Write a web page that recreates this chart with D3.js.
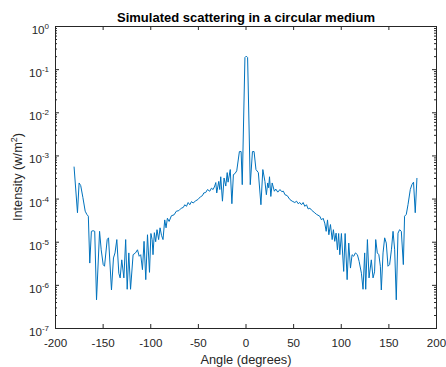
<!DOCTYPE html>
<html>
<head>
<meta charset="utf-8">
<script src="https://cdn.jsdelivr.net/npm/d3@7"></script>
<style>
  body { margin: 0; background: #fff; }
  text { font-family: "Liberation Sans", Arial, Helvetica, sans-serif; fill: #262626; }
</style>
</head>
<body>
<svg id="chart" width="446" height="367"></svg>
<script>

// scattering profile (angle in degrees, intensity in w/m^2)
var angleDeg = [
  -180, -176.4, -174.7, -173, -170.7, -168.3, -166.6, -165, -163.5, -161.8,
  -160, -158.3, -156.4, -153.2, -151.5, -149.4, -148, -145.2, -143.8, -140.7,
  -138.6, -137, -135.1, -133, -131.6, -129.9, -127.7, -125.8, -124.2, -122.5,
  -120.7, -118, -115.5, -113.4, -111.6, -110, -108.2, -106.5, -104.7, -102.9,
  -100.8, -99.3, -98, -97.1, -95.7, -94.3, -92.9, -91.2, -89.7, -88.2,
  -86.6, -84.8, -83.4, -82, -80.2, -77.8, -75, -72.6, -70, -67.4,
  -65.4, -63.7, -62, -60.2, -58.5, -56.7, -55, -52.2, -50, -47.3,
  -45.2, -43.8, -41.8, -39.9, -37.5, -35.8, -34, -32.3, -31.2, -30.2,
  -28.1, -27, -26, -24.2, -22.5, -20.7, -19.2, -18.3, -16, -14.3,
  -12.7, -11, -9.2, -6.4, -4.6, -3.4, -0.6, 0.8, 2.2, 5,
  7.3, 9, 11, 13.5, 16.2, 18.2, 20.4, 21.9, 23.3, 24.3,
  25.2, 26.6, 28, 30.3, 31.8, 33.9, 36.2, 38, 39.8, 41.4,
  43.8, 46.6, 49, 51.8, 53.6, 55.3, 57, 58.8, 60.5, 62.3,
  64, 65.8, 67.6, 69.3, 72.1, 74.6, 78, 79.8, 81.5, 83.2,
  84.7, 86.1, 87.5, 89.2, 91, 92.3, 93.7, 95.1, 96.5, 97.8,
  99, 100.7, 103.1, 104.6, 106.7, 108.4, 110.2, 111.9, 113.6, 115.4,
  117.5, 119.3, 121.7, 123.4, 125.1, 126.2, 128, 129.7, 132.1, 133.9,
  135.5, 136.7, 138.4, 140, 141.6, 142.6, 144.4, 146.1, 147.8, 149.6,
  151.3, 153.2, 154.9, 156.6, 158.3, 160.1, 161.8, 163.6, 165.7, 167,
  168.8, 170.6, 173, 174.7, 176.4, 178.2, 180
];

var intensity = [
  5.5e-4, 4.7e-5, 2.3e-4, 2.0e-4, 1.05e-4, 5.1e-5, 4.3e-5, 3.9e-5, 3.2e-6, 1.74e-5,
  1.8e-5, 1.74e-5, 4.5e-7, 1.74e-5, 6.5e-6, 2.95e-6, 2.7e-6, 1.12e-5, 1.23e-5, 7.6e-7,
  4.2e-6, 5.5e-6, 1.12e-5, 1.86e-6, 1.45e-6, 3.8e-6, 1.45e-6, 1.12e-5, 7.9e-7, 5.5e-6,
  7.9e-7, 5.0e-6, 5.5e-6, 6.5e-6, 4.6e-6, 5.0e-6, 2.25e-6, 1.02e-5, 1.32e-6, 1.45e-5,
  1.95e-6, 1.55e-5, 1.12e-5, 5.0e-6, 1.62e-5, 1.0e-5, 1.9e-5, 1.12e-5, 2.1e-5, 1.41e-5,
  1.12e-5, 3.2e-5, 2.1e-5, 3.5e-5, 2.95e-5, 4.0e-5, 4.2e-5, 5.1e-5, 5.25e-5, 6.0e-5,
  6.2e-5, 7.2e-5, 6.6e-5, 8.1e-5, 7.2e-5, 8.5e-5, 7.9e-5, 8.9e-5, 9.5e-5, 1.10e-4,
  1.17e-4, 1.35e-4, 1.38e-4, 1.62e-4, 1.48e-4, 1.74e-4, 1.62e-4, 1.95e-4, 2.35e-4, 1.35e-4,
  2.5e-4, 1.62e-4, 3.2e-4, 8.7e-5, 3.0e-4, 1.95e-4, 4.0e-4, 2.4e-4, 4.7e-4, 7.6e-5,
  3.6e-4, 3.8e-4, 4.4e-4, 1.23e-3, 1.23e-3, 2.1e-4, 0.186, 0.2, 0.186, 2.1e-4,
  1.23e-3, 1.23e-3, 4.7e-4, 4.0e-4, 7.2e-5, 4.7e-4, 2.5e-4, 1.23e-4, 2.3e-4, 1.78e-4,
  3.2e-4, 1.12e-4, 2.3e-4, 1.48e-4, 1.66e-4, 1.41e-4, 1.62e-4, 1.45e-4, 1.48e-4, 1.23e-4,
  1.17e-4, 9.5e-5, 8.7e-5, 8.1e-5, 8.7e-5, 7.6e-5, 8.1e-5, 7.2e-5, 8.1e-5, 6.6e-5,
  7.2e-5, 5.75e-5, 6.0e-5, 5.4e-5, 4.8e-5, 4.3e-5, 3.9e-5, 3.2e-5, 3.5e-5, 2.7e-5,
  1.74e-5, 3.2e-5, 1.45e-5, 2.5e-5, 1.12e-5, 1.9e-5, 1.02e-5, 1.58e-5, 6.5e-6, 1.55e-5,
  5.0e-6, 1.55e-5, 2.05e-6, 1.55e-5, 1.32e-6, 9.3e-6, 2.45e-6, 5.0e-6, 4.6e-6, 5.5e-6,
  5.0e-6, 3.5e-6, 1.86e-6, 7.9e-7, 5.5e-6, 7.9e-7, 1.12e-5, 1.45e-6, 3.8e-6, 1.45e-6,
  2.0e-6, 1.12e-5, 5.5e-6, 5.0e-6, 2.7e-6, 7.6e-7, 5.5e-6, 1.23e-5, 9.3e-6, 2.7e-6,
  2.95e-6, 6.5e-6, 1.74e-5, 6.5e-6, 4.5e-7, 1.58e-5, 1.9e-5, 1.74e-5, 2.95e-6, 3.9e-5,
  4.3e-5, 7.2e-5, 1.62e-4, 2.1e-4, 2.4e-4, 4.7e-5, 3.0e-4
];

// axis ticks
var xTicks = [-200, -150, -100, -50, 0, 50, 100, 150, 200];
var yExponents = [-7, -6, -5, -4, -3, -2, -1, 0];

var svg = d3.select("#chart");
var axisColor = "#262626";

// plot box (MATLAB style, box on)
var boxL = 55, boxR = 436, boxT = 26, boxB = 328;

var x = d3.scaleLinear().domain([-200, 200]).range([boxL, boxR]);
var y = d3.scaleLog().domain([1e-7, 1]).range([boxB, boxT]);

// minor ticks for the log axis
var yMinor = [];
yExponents.slice(0, -1).forEach(function(e) {
  for (var k = 2; k <= 9; k++) yMinor.push(k * Math.pow(10, e));
});
var yMajor = yExponents.map(function(e) { return Math.pow(10, e); });

function styleAxis(g) {
  g.select(".domain").remove();
  g.selectAll("line").attr("stroke", axisColor);
}

// bottom axis, ticks pointing in
var xAxisBottom = svg.append("g")
    .attr("transform", "translate(0," + boxB + ")")
    .call(d3.axisBottom(x).tickValues(xTicks).tickSize(-4).tickSizeOuter(0).tickPadding(0))
    .call(styleAxis);
xAxisBottom.selectAll("text")
    .attr("y", 19)
    .attr("dy", null)
    .style("font-size", "11.6px")
    .attr("fill", axisColor)
    .text(function(d) { return d; });

// top axis, ticks only
svg.append("g")
    .attr("transform", "translate(0," + boxT + ")")
    .call(d3.axisTop(x).tickValues(xTicks).tickSize(-4).tickSizeOuter(0).tickFormat(""))
    .call(styleAxis);

// left axis, major + minor
svg.append("g")
    .attr("transform", "translate(" + boxL + ",0)")
    .call(d3.axisLeft(y).tickValues(yMajor).tickSize(-4).tickSizeOuter(0).tickFormat(""))
    .call(styleAxis);
svg.append("g")
    .attr("transform", "translate(" + boxL + ",0)")
    .call(d3.axisLeft(y).tickValues(yMinor).tickSize(-2).tickSizeOuter(0).tickFormat(""))
    .call(styleAxis);

// right axis, major + minor
svg.append("g")
    .attr("transform", "translate(" + boxR + ",0)")
    .call(d3.axisRight(y).tickValues(yMajor).tickSize(-4).tickSizeOuter(0).tickFormat(""))
    .call(styleAxis);
svg.append("g")
    .attr("transform", "translate(" + boxR + ",0)")
    .call(d3.axisRight(y).tickValues(yMinor).tickSize(-2).tickSizeOuter(0).tickFormat(""))
    .call(styleAxis);

// y tick labels as 10^n
var yLabels = svg.append("g").attr("class", "ylabels");
yExponents.forEach(function(e) {
  var yy = Math.round(y(Math.pow(10, e))) + 0.5;
  var t = yLabels.append("text")
      .attr("x", boxL - 6)
      .attr("y", yy + 7.5)
      .attr("text-anchor", "end")
      .style("font-size", "11.6px")
      .attr("fill", axisColor);
  t.append("tspan").text("10");
  t.append("tspan")
      .attr("dy", -5)
      .style("font-size", "8px")
      .text(e);
});

// box outline
svg.append("rect")
    .attr("x", boxL + 0.5)
    .attr("y", boxT + 0.5)
    .attr("width", boxR - boxL)
    .attr("height", boxB - boxT)
    .attr("fill", "none")
    .attr("stroke", axisColor)
    .attr("stroke-width", 1);

// data line
var points = angleDeg.map(function(a, i) { return [a, intensity[i]]; });
var line = d3.line()
    .x(function(d) { return x(d[0]); })
    .y(function(d) { return y(d[1]); });

svg.append("path")
    .datum(points)
    .attr("d", line)
    .attr("fill", "none")
    .attr("stroke", "#0072BD")
    .attr("stroke-width", 1)
    .attr("stroke-linejoin", "round");

// title and axis labels
svg.append("text")
    .attr("x", (boxL + boxR) / 2 + 0.5)
    .attr("y", 21.5)
    .attr("text-anchor", "middle")
    .style("font-size", "13px")
    .style("font-weight", "bold")
    .style("fill", "#000")
    .text("Simulated scattering in a circular medium");

svg.append("text")
    .attr("x", (boxL + boxR) / 2 + 0.5)
    .attr("y", 364)
    .attr("text-anchor", "middle")
    .style("font-size", "12.8px")
    .text("Angle (degrees)");

var yTitle = svg.append("text")
    .attr("transform", "translate(22," + ((boxT + boxB) / 2) + ") rotate(-90)")
    .attr("text-anchor", "middle")
    .style("font-size", "12.8px");
yTitle.append("tspan").text("Intensity (w/m");
yTitle.append("tspan").attr("dy", -5).style("font-size", "9px").text("2");
yTitle.append("tspan").attr("dy", 5).text(")");

</script>
</body>
</html>
